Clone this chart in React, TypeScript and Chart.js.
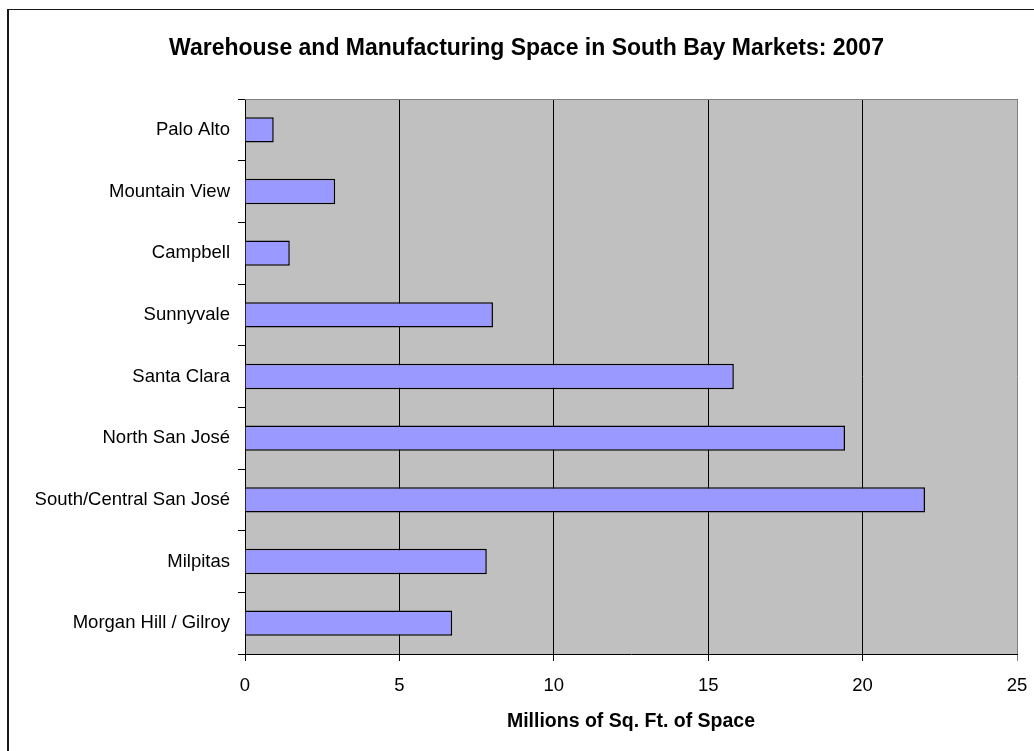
import React, { useEffect, useRef } from "react";
import { Chart, registerables } from "chart.js";

Chart.register(...registerables);

const categories = [
  "Palo Alto",
  "Mountain View",
  "Campbell",
  "Sunnyvale",
  "Santa Clara",
  "North San José",
  "South/Central San José",
  "Milpitas",
  "Morgan Hill / Gilroy",
];
const values = [0.93, 2.92, 1.45, 8.03, 15.83, 19.43, 22.02, 7.83, 6.71];
const xTicks = [0, 5, 10, 15, 20, 25];
const titleText = "Warehouse and Manufacturing Space in South Bay Markets: 2007";
const xTitleText = "Millions of Sq. Ft. of Space";

const FONT = "'Liberation Sans', Arial, Helvetica, sans-serif";

const plotBg = {
  id: "plotBg",
  beforeDraw(chart: any) {
    const { ctx, chartArea: a } = chart;
    ctx.save();
    ctx.fillStyle = "#C0C0C0";
    ctx.fillRect(a.left, a.top, a.right - a.left, a.bottom - a.top);
    ctx.restore();
  },
  afterDraw(chart: any) {
    const { ctx, chartArea: a } = chart;
    ctx.save();
    ctx.strokeStyle = "#808080";
    ctx.lineWidth = 1;
    ctx.beginPath();
    ctx.moveTo(a.left, a.top + 0.5);
    ctx.lineTo(a.right, a.top + 0.5);
    ctx.stroke();
    ctx.restore();
  },
};

export default function App() {
  const ref = useRef<HTMLCanvasElement | null>(null);

  useEffect(() => {
    if (!ref.current) return;
    const chart = new Chart(ref.current, {
      type: "bar",
      data: {
        labels: categories,
        datasets: [
          {
            data: values,
            backgroundColor: "#9999FF",
            borderColor: "#000000",
            borderWidth: 1.5,
            categoryPercentage: 1,
            barPercentage: 0.41,
          },
        ],
      },
      options: {
        indexAxis: "y",
        animation: false,
        responsive: false,
        maintainAspectRatio: false,
        layout: { padding: { left: 36, right: 17, top: 0, bottom: 0 } },
        plugins: {
          legend: { display: false },
          tooltip: { enabled: false },
          title: {
            display: true,
            text: titleText,
            color: "#000",
            font: { family: FONT, size: 23, weight: "bold" },
            padding: { top: 35, bottom: 36.4 },
          },
        },
        scales: {
          x: {
            type: "linear",
            min: 0,
            max: 25,
            afterBuildTicks: (scale: any) => {
              scale.ticks = xTicks.map((v) => ({ value: v }));
            },
            afterFit: (scale: any) => {
              scale.height = 97;
              scale.paddingLeft = 0;
              scale.paddingRight = 0;
            },
            grid: {
              color: (ctx: any) => (ctx.tick && ctx.tick.value === 25 ? "#808080" : "#000"),
              lineWidth: 1,
              drawTicks: true,
              tickLength: 7,
            },
            border: { display: true, color: "#000", width: 1 },
            ticks: {
              color: "#000",
              font: { family: FONT, size: 18.5 },
              padding: 14,
            },
            title: {
              display: true,
              text: xTitleText,
              color: "#000",
              font: { family: FONT, size: 19.5, weight: "bold" },
              padding: { top: 0, bottom: 17.5 },
            },
          },
          y: {
            type: "category",
            afterFit: (scale: any) => {
              scale.width = 209;
              scale.paddingTop = 0;
              scale.paddingBottom = 0;
            },
            grid: {
              offset: true,
              drawOnChartArea: false,
              drawTicks: true,
              tickLength: 7,
              color: "#000",
            },
            border: { display: true, color: "#000", width: 1 },
            ticks: {
              color: "#000",
              font: { family: FONT, size: 18.5 },
              padding: 8,
              autoSkip: false,
            },
          },
        },
      },
      plugins: [plotBg],
    } as any);
    return () => chart.destroy();
  }, []);

  return (
    <div
      style={{
        position: "fixed",
        left: 0,
        top: 0,
        width: 1034,
        height: 751,
        overflow: "hidden",
        background: "#fff",
      }}
    >
      <div
        style={{
          position: "absolute",
          left: 7,
          top: 9,
          width: 1100,
          height: 800,
          borderLeft: "2px solid #1a1a1a",
          borderTop: "1.5px solid #1a1a1a",
        }}
      />
      <canvas
        ref={ref}
        width={1034}
        height={751}
        style={{ position: "absolute", left: 0, top: 0, width: 1034, height: 751 }}
      />
    </div>
  );
}
